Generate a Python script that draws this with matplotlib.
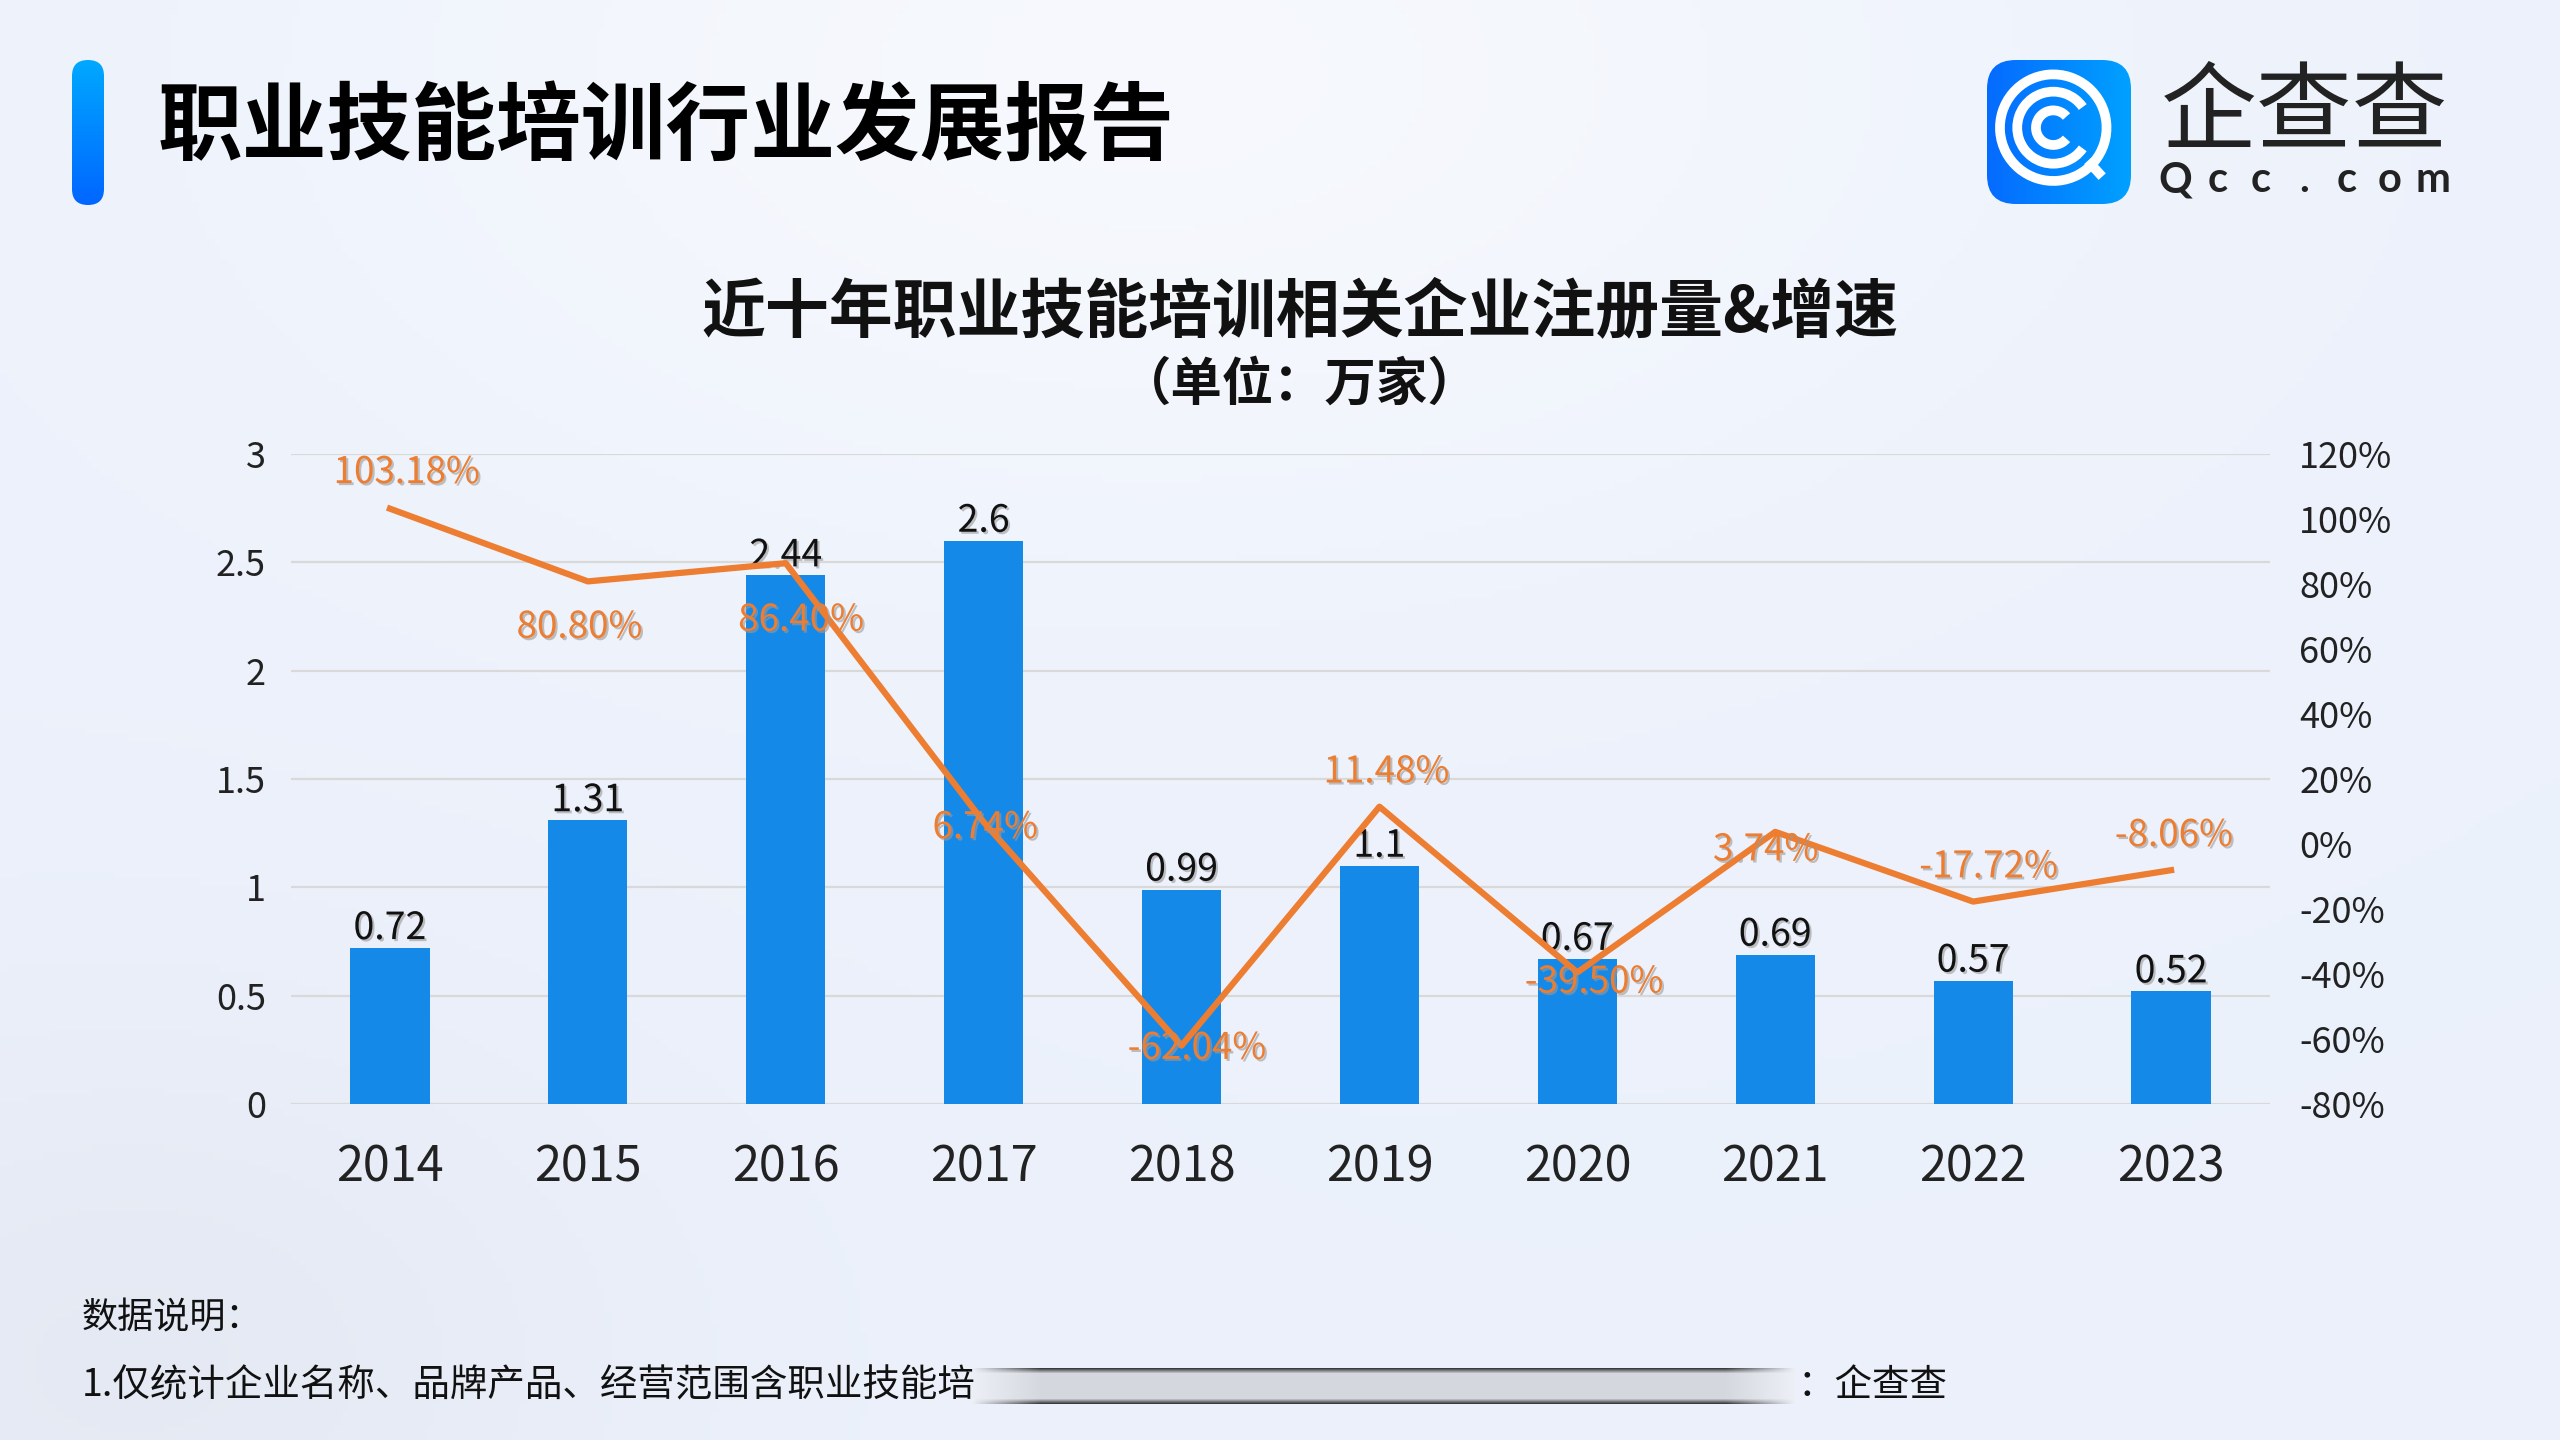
import numpy as np
import matplotlib
matplotlib.use("Agg")
import matplotlib.pyplot as plt
import matplotlib.patheffects as pe
from matplotlib.patches import FancyBboxPatch, Arc

plt.rcParams['font.family'] = ['Noto Sans CJK SC', 'DejaVu Sans']

# 数据
YEARS = ["2014", "2015", "2016", "2017", "2018", "2019", "2020", "2021", "2022", "2023"]
COUNTS = [0.72, 1.31, 2.44, 2.6, 0.99, 1.1, 0.67, 0.69, 0.57, 0.52]          # 万家
GROWTH = [103.18, 80.80, 86.40, 6.74, -62.04, 11.48, -39.50, 3.74, -17.72, -8.06]  # %

LEFT_TICKS = [0, 0.5, 1, 1.5, 2, 2.5, 3]
RIGHT_TICKS = [-80, -60, -40, -20, 0, 20, 40, 60, 80, 100, 120]

TITLE = "职业技能培训行业发展报告"
CHART_TITLE = "近十年职业技能培训相关企业注册量&增速"
UNIT = "（单位：万家）"
NOTE1 = "数据说明："
NOTE2 = "1.仅统计企业名称、品牌产品、经营范围含职业技能培"
NOTE3 = "：企查查"

# 增速标签的偏移 (points)
label_offsets = [(12, 26), (-6, -33), (11, -41), (1, -4), (11, -2),
                 (5, 25), (12, -7), (-7, -13), (11, 25), (2, 25)]

BAR_COLOR = "#1589E8"
LINE_COLOR = "#ED7D31"

W, H = 2560, 1440
fig = plt.figure(figsize=(W / 100, H / 100), dpi=100)


def fx(x):
    return x / W


def fy(y):
    return 1 - y / H


# 背景渐变
bg = fig.add_axes([0, 0, 1, 1], zorder=-10)
yy, xx = np.mgrid[0:1:200j, 0:1:360j]
base = np.array([0.925, 0.945, 0.985])
blob = np.exp(-(((xx - 0.45) / 0.35) ** 2 + ((yy - 0.05) / 0.35) ** 2))
blob2 = np.exp(-(((xx - 0.05) / 0.2) ** 2 + ((yy - 0.95) / 0.25) ** 2))
img = np.ones((200, 360, 3)) * base
img = img + (1 - img) * 0.55 * blob[..., None]
img = img * (1 - 0.03 * blob2[..., None])
bg.imshow(np.clip(img, 0, 1), aspect="auto", extent=[0, 1, 0, 1], origin="upper")
bg.set_xlim(0, 1)
bg.set_ylim(0, 1)
bg.axis("off")

# 左上角竖条
bar_ax = fig.add_axes([fx(72), fy(205), fx(32), (205 - 60) / H])
grad = np.linspace(0, 1, 100)[:, None]
cols = np.array([0.0, 0.66, 1.0]) * (1 - grad[..., None]) + np.array([0.0, 0.40, 1.0]) * grad[..., None]
im = bar_ax.imshow(cols[:, 0, :][:, None, :].repeat(5, axis=1), aspect="auto", extent=[0, 1, 0, 1])
clip = FancyBboxPatch((0, 0), 1, 1, boxstyle="round,pad=0,rounding_size=0.5",
                      mutation_aspect=0.22, transform=bar_ax.transData, facecolor="none", edgecolor="none")
bar_ax.add_patch(clip)
im.set_clip_path(clip)
bar_ax.set_xlim(0, 1)
bar_ax.set_ylim(0, 1)
bar_ax.axis("off")

fig.text(fx(158), fy(128), TITLE, fontsize=61, fontweight="bold", color="#000000",
         ha="left", va="center")

# logo
logo = fig.add_axes([fx(1987), fy(204), fx(144), 144 / H])
lg = np.linspace(0, 1, 100)[None, :]
lcols = np.array([0.02, 0.42, 1.0]) * (1 - lg[..., None]) + np.array([0.0, 0.63, 1.0]) * lg[..., None]
lim = logo.imshow(lcols.repeat(100, axis=0), extent=[0, 1, 0, 1], aspect="auto")
lclip = FancyBboxPatch((0, 0), 1, 1, boxstyle="round,pad=0,rounding_size=0.2",
                       transform=logo.transData, facecolor="none", edgecolor="none")
logo.add_patch(lclip)
lim.set_clip_path(lclip)
cx, cy = 0.46, 0.53
logo.add_patch(Arc((cx, cy), 0.74, 0.74, theta1=-40, theta2=320, lw=7, color="white"))
logo.add_patch(Arc((cx, cy), 0.50, 0.50, theta1=35, theta2=325, lw=7, color="white"))
logo.add_patch(Arc((cx, cy), 0.24, 0.24, theta1=40, theta2=320, lw=7, color="white"))
logo.plot([0.70, 0.80], [0.30, 0.19], color="white", lw=7, solid_capstyle="butt")
logo.set_xlim(0, 1)
logo.set_ylim(0, 1)
logo.axis("off")

fig.text(fx(2305), fy(114), "企查查", fontsize=69, color="#222222", ha="center", va="center")
for i, ch in enumerate("Qcc.com"):
    fig.text(fx(np.linspace(2175, 2433, 7)[i]), fy(180), ch, fontsize=30, fontweight="bold",
             color="#222222", ha="center", va="center", family=["Lato", "DejaVu Sans"])

# 标题
fig.text(fx(1300), fy(312), CHART_TITLE, fontsize=46, fontweight="bold",
         color="#111111", ha="center", va="center")
fig.text(fx(1300), fy(384), UNIT, fontsize=37, fontweight="bold",
         color="#111111", ha="center", va="center")

# 主图
ax = fig.add_axes([fx(291), fy(1104), fx(2270 - 291), (1104 - 454) / H])
ax.set_facecolor("none")
x = np.arange(len(YEARS))
bars = ax.bar(x, COUNTS, width=0.40, color=BAR_COLOR, zorder=3)
ax.set_xlim(-0.5, len(YEARS) - 0.5)
ax.set_ylim(0, 3)
ax.set_yticks(LEFT_TICKS)
ax.set_yticklabels([f"{v:g}" for v in LEFT_TICKS])
ax.set_xticks(x)
ax.set_xticklabels(YEARS)
ax.grid(axis="y", color="#D9D9D9", lw=1.6, zorder=0)
for s in ax.spines.values():
    s.set_visible(False)
ax.tick_params(axis="y", length=0, pad=18, labelsize=26, labelcolor="#222222")
ax.tick_params(axis="x", length=0, pad=28, labelsize=35, labelcolor="#222222")

shadow = [pe.withSimplePatchShadow(offset=(1.5, -1.5), shadow_rgbFace="#999999", alpha=0.6)]
for xi, v in zip(x, COUNTS):
    ax.annotate(f"{v:g}", (xi, v), xytext=(0, 14), textcoords="offset points",
                ha="center", va="center", fontsize=27, color="#111111",
                path_effects=shadow, zorder=5)

ax2 = ax.twinx()
ax2.set_facecolor("none")
ax2.set_ylim(-80, 120)
ax2.set_yticks(RIGHT_TICKS)
ax2.set_yticklabels([f"{v}%" for v in RIGHT_TICKS])
for s in ax2.spines.values():
    s.set_visible(False)
ax2.tick_params(axis="y", length=0, pad=21, labelsize=26, labelcolor="#222222")
ax2.plot(x, GROWTH, color=LINE_COLOR, lw=4.5, solid_joinstyle="round", zorder=4)
for xi, v, off in zip(x, GROWTH, label_offsets):
    ax2.annotate(f"{v:.2f}%", (xi, v), xytext=off, textcoords="offset points",
                 ha="center", va="center", fontsize=26.5, color=LINE_COLOR,
                 path_effects=shadow, zorder=6)

# 说明
fig.text(fx(82), fy(1318), NOTE1, fontsize=26, color="#111111", ha="left", va="center")
fig.text(fx(82), fy(1386), NOTE2, fontsize=27, color="#111111", ha="left", va="center")

# 模糊遮挡条
blur = fig.add_axes([fx(971), fy(1404), fx(1796 - 971), 36 / H])
prof = np.concatenate([np.linspace(0.25, 0.9, 6), np.full(24, 0.9), np.linspace(0.9, 0.25, 6)])
hfade = np.clip(np.minimum(np.linspace(0, 12, 300), np.linspace(12, 0, 300)), 0, 1)
val = 1 - (1 - prof[:, None]) * hfade[None, :]
blur.imshow(np.dstack([val * 0.93, val * 0.94, val * 0.97]), aspect="auto", extent=[0, 1, 0, 1])
blur.axis("off")
fig.text(fx(1798), fy(1386), NOTE3, fontsize=27, color="#111111", ha="left", va="center")

fig.savefig("out.png", dpi=100)
